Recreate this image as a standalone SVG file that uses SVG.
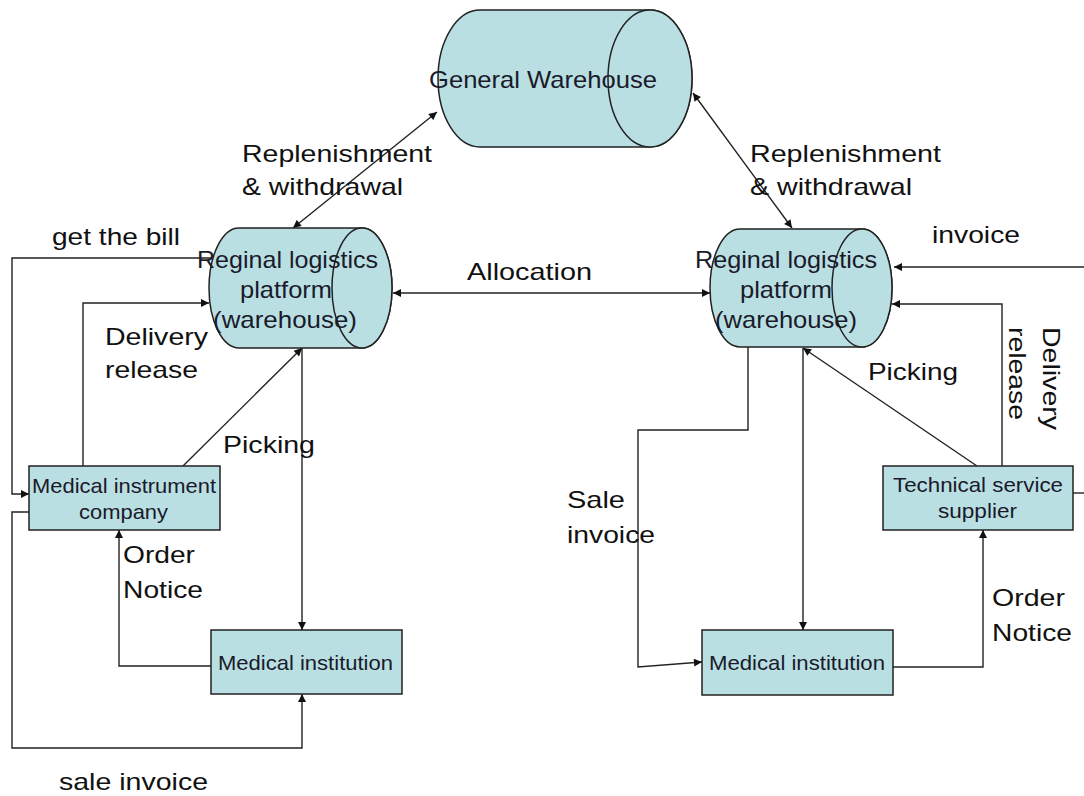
<svg xmlns="http://www.w3.org/2000/svg" width="1084" height="796" viewBox="0 0 1084 796">
  <style>
    .shape { fill: #b9dfe3; stroke: #222; stroke-width: 1.5; }
    .lbl { font-family: "Liberation Sans", Arial, sans-serif; font-size: 24px; fill: #111; }
    .node { font-family: "Liberation Sans", Arial, sans-serif; font-size: 24px; fill: #1a1a2a; }
    .box { font-family: "Liberation Sans", Arial, sans-serif; font-size: 21px; fill: #1a1a2a; }
    .conn { fill: none; stroke: #222; stroke-width: 1.4; }
  </style>
  <defs>
    <marker id="arr" viewBox="0 0 10 10" refX="10" refY="5" markerWidth="9" markerHeight="8" markerUnits="userSpaceOnUse" orient="auto-start-reverse">
      <path d="M0,0 L10,5 L0,10 z" fill="#111"/>
    </marker>
  </defs>
  <rect width="1084" height="796" fill="#fff"/>

  <!-- connectors -->
  <g id="connectors">
    <line class="conn" x1="437" y1="112" x2="293" y2="228" marker-start="url(#arr)" marker-end="url(#arr)"/>
    <line class="conn" x1="693" y1="93" x2="792" y2="228" marker-start="url(#arr)" marker-end="url(#arr)"/>
    <line class="conn" x1="393" y1="293" x2="710" y2="293" marker-start="url(#arr)" marker-end="url(#arr)"/>
    <polyline class="conn" points="212,258 12,258 12,494 29,494" marker-end="url(#arr)"/>
    <polyline class="conn" points="83,466 83,303 209,303" marker-end="url(#arr)"/>
    <line class="conn" x1="183" y1="466" x2="302" y2="348" marker-end="url(#arr)"/>
    <line class="conn" x1="302" y1="348" x2="302" y2="630" marker-end="url(#arr)"/>
    <polyline class="conn" points="211,666 119,666 119,530" marker-end="url(#arr)"/>
    <polyline class="conn" points="29,512 12,512 12,748 302,748 302,694" marker-end="url(#arr)"/>
    <line class="conn" x1="1084" y1="267" x2="894" y2="267" marker-end="url(#arr)"/>
    <polyline class="conn" points="1002,466 1002,304 892,304" marker-end="url(#arr)"/>
    <line class="conn" x1="977" y1="466" x2="803" y2="348" marker-end="url(#arr)"/>
    <line class="conn" x1="803" y1="348" x2="803" y2="630" marker-end="url(#arr)"/>
    <polyline class="conn" points="748,345 748,430 638,430 638,667 702,662" marker-end="url(#arr)"/>
    <polyline class="conn" points="893,667 983,667 983,530" marker-end="url(#arr)"/>
    <line class="conn" x1="1073" y1="493" x2="1084" y2="493"/>
  </g>

  <!-- General Warehouse -->
  <g id="general-warehouse">
    <path class="shape" d="M480,10 L650,10 A42,68.5 0 0 1 650,147 L480,147 A42,68.5 0 0 1 480,10 Z"/>
    <ellipse class="shape" cx="650" cy="78.5" rx="42" ry="68.5"/>
    <text class="node" x="429" y="88" textLength="228" lengthAdjust="spacingAndGlyphs">General Warehouse</text>
  </g>

  <!-- Regional platform, left -->
  <g id="platform-left">
    <path class="shape" d="M239,228 L362,228 A30,60 0 0 1 362,348 L239,348 A30,60 0 0 1 239,228 Z"/>
    <ellipse class="shape" cx="362" cy="288" rx="30" ry="60"/>
    <text class="node" x="197" y="268" textLength="181" lengthAdjust="spacingAndGlyphs">Reginal logistics</text>
    <text class="node" x="240" y="298" textLength="92" lengthAdjust="spacingAndGlyphs">platform</text>
    <text class="node" x="213" y="328" textLength="144" lengthAdjust="spacingAndGlyphs">(warehouse)</text>
  </g>

  <!-- Regional platform, right -->
  <g id="platform-right">
    <path class="shape" d="M740,229 L862,229 A30,59 0 0 1 862,347 L740,347 A30,59 0 0 1 740,229 Z"/>
    <ellipse class="shape" cx="862" cy="288" rx="30" ry="59"/>
    <text class="node" x="695" y="268" textLength="182" lengthAdjust="spacingAndGlyphs">Reginal logistics</text>
    <text class="node" x="740" y="298" textLength="92" lengthAdjust="spacingAndGlyphs">platform</text>
    <text class="node" x="715" y="328" textLength="142" lengthAdjust="spacingAndGlyphs">(warehouse)</text>
  </g>

  <!-- Medical instrument company -->
  <g id="instrument-company">
    <rect class="shape" x="29" y="466" width="191" height="64"/>
    <text class="box" x="32" y="493" textLength="184" lengthAdjust="spacingAndGlyphs">Medical instrument</text>
    <text class="box" x="79" y="519" textLength="89" lengthAdjust="spacingAndGlyphs">company</text>
  </g>

  <!-- Medical institution, left -->
  <g id="institution-left">
    <rect class="shape" x="211" y="630" width="191" height="64"/>
    <text class="box" x="218" y="670" textLength="175" lengthAdjust="spacingAndGlyphs">Medical institution</text>
  </g>

  <!-- Technical service supplier -->
  <g id="service-supplier">
    <rect class="shape" x="883" y="466" width="190" height="64"/>
    <text class="box" x="893" y="492" textLength="170" lengthAdjust="spacingAndGlyphs">Technical service</text>
    <text class="box" x="938" y="518" textLength="79" lengthAdjust="spacingAndGlyphs">supplier</text>
  </g>

  <!-- Medical institution, right -->
  <g id="institution-right">
    <rect class="shape" x="702" y="630" width="191" height="65"/>
    <text class="box" x="709" y="670" textLength="176" lengthAdjust="spacingAndGlyphs">Medical institution</text>
  </g>

  <!-- flow labels -->
  <g id="labels">
    <text class="lbl" x="242" y="162" textLength="190" lengthAdjust="spacingAndGlyphs">Replenishment</text>
    <text class="lbl" x="242" y="195" textLength="161" lengthAdjust="spacingAndGlyphs">&amp; withdrawal</text>
    <text class="lbl" x="750" y="162" textLength="191" lengthAdjust="spacingAndGlyphs">Replenishment</text>
    <text class="lbl" x="750" y="195" textLength="162" lengthAdjust="spacingAndGlyphs">&amp; withdrawal</text>
    <text class="lbl" x="52" y="245" textLength="128" lengthAdjust="spacingAndGlyphs">get the bill</text>
    <text class="lbl" x="105" y="345" textLength="103" lengthAdjust="spacingAndGlyphs">Delivery</text>
    <text class="lbl" x="105" y="378" textLength="93" lengthAdjust="spacingAndGlyphs">release</text>
    <text class="lbl" x="223" y="453" textLength="92" lengthAdjust="spacingAndGlyphs">Picking</text>
    <text class="lbl" x="467" y="280" textLength="125" lengthAdjust="spacingAndGlyphs">Allocation</text>
    <text class="lbl" x="932" y="243" textLength="88" lengthAdjust="spacingAndGlyphs">invoice</text>
    <text class="lbl" transform="translate(1043,327) rotate(90)" textLength="103" lengthAdjust="spacingAndGlyphs">Delivery</text>
    <text class="lbl" transform="translate(1009,327) rotate(90)" textLength="93" lengthAdjust="spacingAndGlyphs">release</text>
    <text class="lbl" x="868" y="380" textLength="90" lengthAdjust="spacingAndGlyphs">Picking</text>
    <text class="lbl" x="567" y="508" textLength="58" lengthAdjust="spacingAndGlyphs">Sale</text>
    <text class="lbl" x="567" y="543" textLength="88" lengthAdjust="spacingAndGlyphs">invoice</text>
    <text class="lbl" x="123" y="563" textLength="72" lengthAdjust="spacingAndGlyphs">Order</text>
    <text class="lbl" x="123" y="598" textLength="80" lengthAdjust="spacingAndGlyphs">Notice</text>
    <text class="lbl" x="992" y="606" textLength="73" lengthAdjust="spacingAndGlyphs">Order</text>
    <text class="lbl" x="992" y="641" textLength="80" lengthAdjust="spacingAndGlyphs">Notice</text>
    <text class="lbl" x="59" y="790" textLength="149" lengthAdjust="spacingAndGlyphs">sale invoice</text>
  </g>
</svg>
